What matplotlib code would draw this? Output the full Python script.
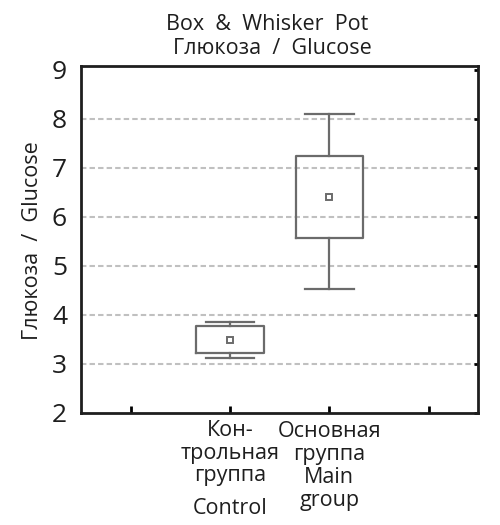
import matplotlib
matplotlib.use("Agg")
import matplotlib.pyplot as plt
from matplotlib.transforms import blended_transform_factory

plt.rcParams['font.family'] = ['Open Sans', 'DejaVu Sans']

# Group statistics (marker, box, whiskers)
groups = ["Control", "Main group"]
centers = [3.49, 6.41]
box_low = [3.22, 5.57]
box_high = [3.76, 7.24]
whisk_low = [3.12, 4.52]
whisk_high = [3.85, 8.10]
positions = [2, 3]
tick_positions = [1, 2, 3, 4]
yticks = [2, 3, 4, 5, 6, 7, 8, 9]

fig = plt.figure(figsize=(5.0, 5.25), dpi=100)
ax = fig.add_axes([81 / 500, 1 - 412.7 / 525, (478.3 - 81) / 500, (412.7 - 66) / 525])

stats = []
for i in range(len(groups)):
    stats.append(dict(med=centers[i], mean=centers[i], q1=box_low[i], q3=box_high[i],
                      whislo=whisk_low[i], whishi=whisk_high[i], fliers=[], label=groups[i]))

gray = "#6b6b6b"
ax.bxp(stats, positions=positions, widths=0.68, showmeans=True, showfliers=False,
       boxprops=dict(color=gray, linewidth=1.6),
       whiskerprops=dict(color=gray, linewidth=1.6),
       capprops=dict(color=gray, linewidth=1.6),
       capwidths=0.49,
       medianprops=dict(linewidth=0),
       meanprops=dict(marker='s', markersize=5, markerfacecolor='white',
                      markeredgecolor=gray, markeredgewidth=1.4),
       zorder=3)

ax.set_xlim(0.5, 4.5)
ax.set_ylim(2, 9.075)
ax.set_yticks(yticks)
ax.set_yticklabels([str(v) for v in yticks], fontsize=19, color="#1e1e1e")
ax.set_xticks(tick_positions)
ax.set_xticklabels([])

for v in yticks[1:-1]:
    ax.plot([0.5, 4.47], [v, v], color="#c0c0c0", linestyle=(0, (2.6, 1.5)),
            linewidth=1.5, zorder=1)

for s in ax.spines.values():
    s.set_linewidth(2.0)
    s.set_color("#1e1e1e")

ax.tick_params(axis='y', left=False, right=True, direction='in', length=3,
               width=2.0, pad=10, labelleft=True)
ax.tick_params(axis='x', bottom=True, top=False, direction='in', length=5, width=2.0)

trans = blended_transform_factory(ax.transData, fig.transFigure)
lab_kw = dict(fontsize=15.5, color="#1e1e1e", ha='center', va='center', linespacing=1.12)
ax.text(2, 1 - 453 / 525, "Кон-\nтрольная\nгруппа", transform=trans, **lab_kw)
ax.text(2, 1 - 509 / 525, "Control", transform=trans, **lab_kw)
ax.text(3, 1 - 466 / 525, "Основная\nгруппа\nMain\ngroup", transform=trans, **lab_kw)

fig.text(267 / 500, 1 - 25 / 525, "Box  &  Whisker  Pot", fontsize=15.5,
         ha='center', va='center', color="#1e1e1e")
fig.text(272 / 500, 1 - 48 / 525, "Глюкоза  /  Glucose", fontsize=15.5,
         ha='center', va='center', color="#1e1e1e")
fig.text(33 / 500, 1 - 241 / 525, "Глюкоза  /  Glucose", fontsize=15.5, rotation=90,
         ha='center', va='center', color="#1e1e1e")

fig.savefig("out.png", dpi=100)
